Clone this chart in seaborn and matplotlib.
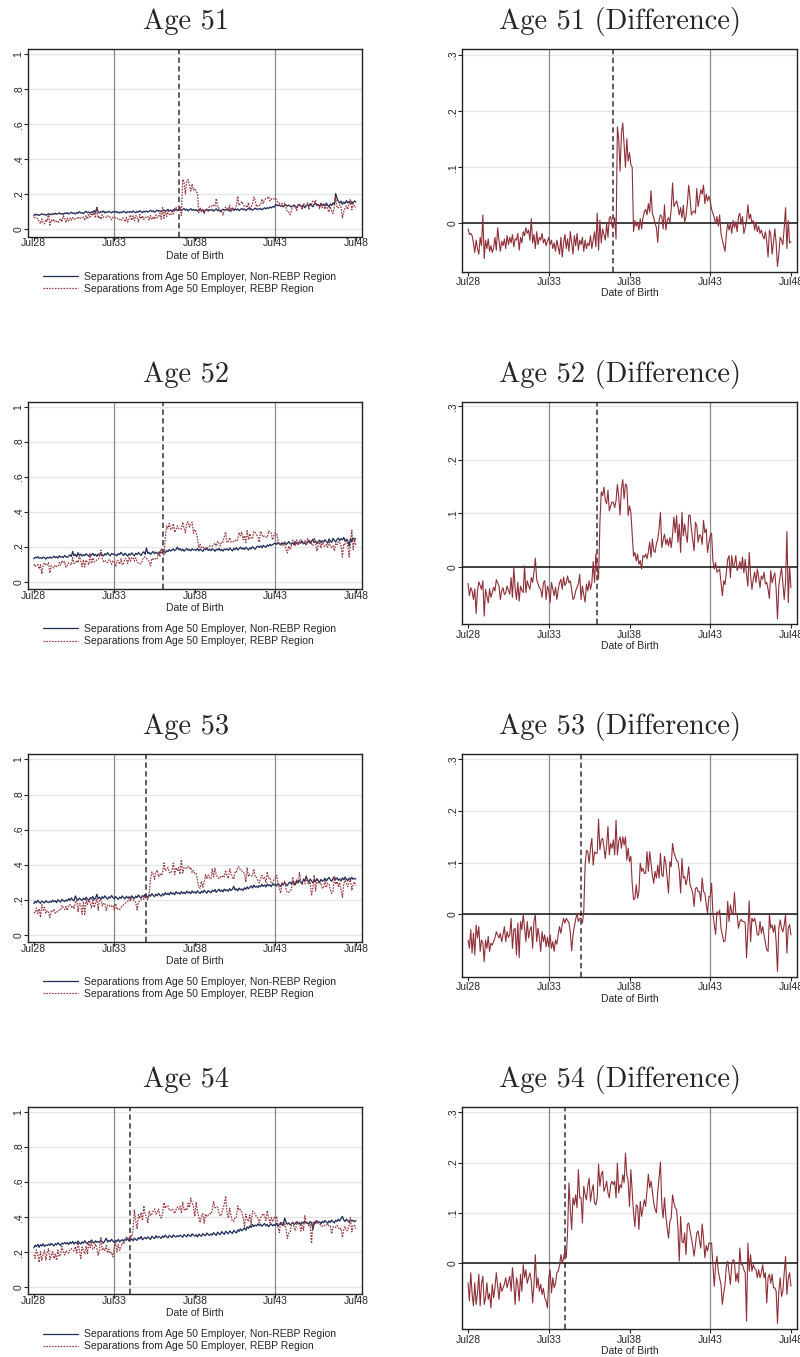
import numpy as np
import pandas as pd
import matplotlib
matplotlib.use('Agg')
import matplotlib.pyplot as plt
import seaborn as sns

# ---- data: monthly cohorts, Jul28 .. Jul48 (241 months), values in thousandths ----
months = np.arange(241)
tick_pos = [0, 60, 120, 180, 240]
tick_lab = ['Jul28', 'Jul33', 'Jul38', 'Jul43', 'Jul48']
ages = [51, 52, 53, 54]
cutoff = {51: 108, 52: 96, 53: 84, 54: 72}  # Jul37, Jul36, Jul35, Jul34

# separations from age-50 employer, non-REBP region
base51 = [78, 88, 82, 86, 80, 85, 90, 84, 87, 81, 86, 83,
          88, 84, 91, 86, 93, 87, 90, 95, 88, 92, 86, 94,
          90, 96, 89, 93, 98, 91, 95, 88, 97, 92, 102, 94,
          96, 90, 99, 104, 95, 100, 93, 101, 97, 108, 96, 124,
          100, 95, 103, 98, 106, 94, 101, 97, 104, 99, 95, 102,
          98, 104, 96, 101, 93, 100, 97, 105, 99, 94, 102, 98,
          103, 97, 106, 100, 95, 104, 98, 107, 101, 96, 105, 100,
          106, 99, 104, 110, 102, 107, 98, 105, 111, 103, 108, 101,
          107, 112, 104, 109, 115, 106, 111, 103, 113, 108, 116, 110,
          112, 118, 108, 114, 120, 110, 116, 106, 113, 119, 109, 115,
          108, 114, 104, 111, 117, 106, 112, 100, 110, 116, 105, 113,
          109, 115, 104, 112, 118, 107, 113, 102, 110, 116, 108, 114,
          110, 117, 106, 113, 119, 108, 115, 111, 118, 107, 114, 120,
          112, 118, 108, 115, 121, 113, 118, 110, 116, 122, 114, 119,
          115, 121, 112, 118, 124, 117, 125, 120, 128, 123, 131, 127,
          138, 142, 135, 140, 133, 137, 130, 136, 141, 132, 139, 134,
          128, 135, 140, 131, 126, 137, 143, 133, 129, 138, 124, 136,
          141, 132, 147, 138, 129, 144, 150, 136, 142, 131, 148, 139,
          145, 134, 151, 140, 128, 146, 137, 152, 143, 205, 178, 160,
          150, 162, 143, 157, 148, 165, 152, 160, 145, 158, 151, 163,
          157]
base52 = [133, 142, 138, 145, 136, 140, 134, 143, 139, 131, 141, 137,
          144, 136, 141, 148, 139, 145, 137, 150, 142, 146, 139, 152,
          145, 140, 149, 155, 146, 175, 150, 158, 144, 168, 152, 160,
          149, 157, 150, 162, 155, 148, 159, 153, 164, 151, 158, 147,
          160, 153, 166, 156, 149, 162, 155, 168, 157, 150, 163, 158,
          161, 155, 150, 163, 157, 170, 159, 152, 165, 156, 148, 162,
          154, 167, 158, 150, 164, 157, 169, 160, 152, 166, 173, 158,
          195, 163, 170, 158, 167, 175, 162, 171, 165, 160, 174, 168,
          170, 178, 166, 181, 174, 186, 177, 183, 190, 179, 185, 200,
          184, 191, 180, 188, 176, 185, 192, 181, 187, 178, 190, 183,
          186, 180, 192, 178, 189, 183, 175, 190, 184, 193, 181, 188,
          179, 190, 185, 176, 188, 182, 193, 180, 187, 177, 189, 184,
          190, 181, 194, 186, 178, 192, 185, 197, 183, 190, 200, 188,
          195, 186, 199, 191, 183, 196, 189, 202, 194, 187, 200, 205,
          198, 207, 195, 210, 203, 199, 212, 205, 216, 208, 214, 219,
          223, 215, 226, 218, 211, 224, 217, 229, 214, 221, 232, 219,
          216, 226, 212, 230, 220, 215, 228, 222, 234, 218, 226, 213,
          229, 238, 221, 233, 244, 226, 236, 219, 231, 240, 225, 237,
          228, 242, 231, 222, 246, 235, 226, 250, 238, 229, 244, 252,
          236, 248, 241, 255, 233, 245, 238, 205, 249, 230, 253, 242,
          248]
base53 = [178, 190, 182, 196, 185, 179, 192, 186, 181, 194, 187, 183,
          190, 185, 197, 188, 194, 183, 199, 192, 186, 201, 195, 189,
          198, 192, 206, 196, 210, 199, 193, 221, 204, 197, 209, 201,
          195, 208, 200, 214, 203, 196, 211, 205, 218, 201, 209, 230,
          206, 214, 201, 217, 208, 222, 210, 203, 216, 209, 224, 212,
          205, 218, 209, 202, 215, 207, 221, 211, 204, 219, 210, 216,
          208, 222, 213, 206, 220, 212, 227, 215, 209, 224, 216, 230,
          220, 214, 228, 219, 234, 224, 217, 231, 222, 236, 226, 220,
          233, 225, 240, 229, 236, 227, 243, 232, 238, 228, 245, 235,
          240, 231, 246, 236, 242, 233, 249, 238, 244, 234, 250, 239,
          245, 236, 251, 241, 235, 248, 240, 254, 243, 237, 252, 245,
          239, 254, 246, 258, 242, 251, 260, 247, 255, 244, 261, 250,
          257, 248, 263, 252, 259, 276, 255, 262, 250, 266, 256, 261,
          252, 268, 259, 273, 262, 270, 279, 266, 283, 271, 277, 268,
          281, 273, 287, 276, 284, 272, 289, 279, 285, 274, 290, 282,
          288, 278, 293, 283, 276, 291, 285, 298, 287, 280, 295, 300,
          288, 304, 293, 285, 308, 296, 312, 299, 290, 318, 305, 335,
          312, 300, 318, 306, 296, 314, 303, 320, 308, 298, 316, 305,
          311, 322, 306, 318, 327, 312, 305, 321, 330, 315, 324, 310,
          318, 306, 325, 313, 329, 317, 308, 323, 314, 328, 316, 321,
          318]
base54 = [225, 240, 232, 245, 228, 243, 236, 248, 233, 241, 238, 246,
          239, 251, 243, 236, 249, 242, 254, 245, 238, 252, 247, 256,
          248, 255, 244, 258, 250, 262, 246, 257, 251, 264, 253, 247,
          259, 251, 266, 255, 248, 262, 256, 270, 258, 252, 265, 257,
          262, 255, 270, 259, 252, 266, 280, 258, 268, 261, 274, 263,
          256, 268, 261, 274, 259, 266, 272, 262, 276, 268, 281, 264,
          270, 277, 265, 281, 272, 268, 284, 276, 290, 271, 279, 285,
          276, 288, 280, 273, 292, 284, 278, 295, 282, 290, 286, 279,
          293, 285, 298, 288, 282, 296, 290, 284, 299, 291, 287, 295,
          289, 298, 292, 286, 301, 294, 288, 303, 296, 290, 305, 297,
          292, 300, 287, 304, 296, 291, 307, 299, 294, 310, 302, 296,
          305, 298, 312, 303, 296, 315, 306, 300, 318, 309, 302, 320,
          312, 305, 322, 314, 307, 325, 316, 310, 328, 319, 334, 322,
          330, 340, 325, 345, 336, 352, 341, 358, 347, 355, 350, 362,
          353, 360, 348, 357, 364, 351, 359, 345, 356, 362, 350, 358,
          352, 365, 348, 358, 370, 355, 362, 395, 372, 360, 368, 356,
          362, 371, 358, 366, 375, 361, 369, 357, 373, 364, 378, 366,
          370, 361, 376, 367, 330, 372, 365, 380, 369, 374, 362, 377,
          368, 381, 372, 365, 379, 370, 384, 374, 367, 382, 376, 389,
          378, 392, 405, 384, 375, 389, 380, 371, 386, 378, 383, 374,
          380]

# REBP minus non-REBP region
diff51 = [-10, -20, -18, -22, -35, -52, -30, -45, -55, -25, -40, 15,
          -63, -30, -45, -28, -50, -40, -52, -44, -25, -48, -8, -30,
          -50, -32, -40, -28, -45, -22, -38, -25, -35, -20, -42, -28,
          -30, -18, -48, -25, -35, -15, -22, -8, -18, -12, -30, 8,
          -35, -20, -45, -15, -38, -25, -30, -18, -35, -28, -40, -32,
          -25, -38, -30, -45, -35, -50, -30, -42, -55, -25, -60, -35,
          -20, -45, -28, -50, -15, -35, -55, -22, -40, -18, -48, -30,
          -38, -25, -50, -30, -45, -35, -40, -22, -45, -30, -15, -42,
          18, -48, 5, -35, -10, -20, -30, 0, -25, 10, 12, -5,
          -5, 10, -28, 172, 150, 93, 160, 179, 140, 100, 151, 111,
          126, 105, 100, -15, 5, -5, 2, -12, 8, -10, 10, 20,
          25, 15, 35, 20, 58, 18, 10, 0, -8, -34, 5, 15,
          12, -10, 33, -12, 5, 10, 2, 25, 72, 30, 35, 40,
          30, 15, 28, 10, 32, 2, 12, 35, 68, 45, 15, 20,
          22, 18, 62, 30, 45, 60, 52, 68, 35, 52, 40, 48,
          40, 25, 18, 10, 0, 12, -5, 15, -18, -30, -40, -50,
          -20, 0, -12, 0, -18, 5, -8, 3, -15, 12, 18, -2,
          12, -18, -8, 5, 33, 8, 16, 0, 5, -12, 2, -15,
          -5, -18, -12, -22, -28, -15, -32, -60, -12, -20, -55, -35,
          -10, -35, -77, -55, -25, -30, -38, -8, 28, -45, 5, -35,
          -33]
diff52 = [-31, -54, -39, -45, -61, -41, -87, -45, -28, -35, -42, -26,
          -92, -42, -55, -67, -41, -57, -48, -38, -45, -24, -30, -36,
          -61, -45, -39, -52, -48, -36, -44, -51, -20, -57, -1, -40,
          -61, -29, -64, -36, -44, -48, 2, -48, -26, -35, -42, -20,
          -29, -10, 16, -23, -32, -39, -42, -57, -30, -26, -61, -36,
          -45, -67, -29, -42, -54, -38, -61, -42, -30, -23, -42, -19,
          -35, -29, -17, -30, -26, -42, -61, -57, -45, -38, -32, -14,
          -61, -36, -52, -66, -32, -45, -26, -42, -30, 10, -29, 24,
          -4, -23, 83, 140, 133, 149, 125, 118, 143, 105, 114, 121,
          121, 111, 124, 154, 130, 97, 146, 163, 127, 155, 152, 96,
          114, 102, 60, 20, 27, 11, 24, 5, 12, -4, 21, 18,
          24, 15, 28, 46, 18, 52, 30, 27, 43, 52, 71, 102,
          36, 50, 61, 42, 52, 39, 55, 36, 60, 93, 64, 96,
          46, 80, 27, 102, 58, 80, 60, 46, 96, 97, 71, 50,
          30, 83, 77, 46, 60, 58, 42, 87, 64, 71, 27, 45,
          58, 63, 11, -4, 8, -10, -7, -4, -29, -54, -26, -33,
          -10, 14, 21, -20, 21, 0, 5, 21, -7, -1, 10, -4,
          18, -11, 14, -15, -36, 27, -17, -42, -23, -10, -29, -4,
          -20, -39, -17, -23, -10, -32, -29, -42, -59, -7, -30, -20,
          -11, -42, -97, -36, -17, -2, -30, -61, -29, 66, -67, 1,
          -39]
diff53 = [-50, -66, -30, -75, -37, -79, -21, -46, -24, -72, -50, -56,
          -92, -50, -66, -43, -72, -56, -60, -53, -46, -34, -40, -46,
          -37, -53, -40, -24, -53, -34, -45, -40, -8, -66, -30, -27,
          -79, -17, -84, -14, -30, 0, -27, -53, -14, -46, -30, -24,
          -66, -14, -1, -53, -27, -46, -72, -34, -53, -40, -63, -45,
          -63, -40, -66, -53, -72, -50, -58, -40, -24, -37, -20, -8,
          -17, -8, -12, -17, -34, -71, -40, -24, -10, 2, -14, -8,
          -8, -17, 5, 95, 124, 121, 99, 128, 147, 95, 121, 118,
          118, 184, 125, 144, 147, 130, 108, 134, 170, 115, 137, 128,
          144, 115, 182, 115, 141, 150, 128, 150, 134, 150, 105, 128,
          102, 112, 60, 28, 31, 57, 31, 44, 99, 83, 89, 79,
          79, 121, 83, 121, 99, 76, 60, 83, 70, 95, 70, 118,
          76, 73, 112, 99, 70, 41, 102, 92, 137, 120, 112, 104,
          102, 83, 41, 108, 70, 73, 57, 70, 92, 57, 50, 41,
          15, 50, 52, 44, 44, 25, 70, 44, 41, 20, 2, 34,
          34, 60, 2, -20, -39, 5, -1, 8, -27, -40, -53, -52,
          -27, 25, -14, 18, 5, -1, 42, 2, -1, -27, -14, -10,
          -14, -14, -17, -84, -27, 26, -53, -8, -14, -8, -20, -40,
          -40, -14, -37, -24, -40, -55, -69, -72, -1, -27, -21, -35,
          -21, -53, -111, -27, -11, -27, -34, -21, -1, -75, -27, -20,
          -40]
diff54 = [-39, -75, -19, -60, -85, -39, -82, -59, -22, -85, -40, -26,
          -82, -69, -39, -72, -60, -89, -42, -69, -49, -19, -45, -72,
          -39, -56, -49, -42, -29, -49, -38, -26, -56, -9, -40, -82,
          -29, -42, -75, -22, -56, -3, -29, -13, -40, -29, -19, -35,
          -79, -42, 17, -49, -29, -56, -42, -62, -50, -69, -75, -89,
          -29, -13, -59, -29, -49, -40, -19, -16, -5, 17, 0, 10,
          27, 11, 64, 160, 107, 67, 130, 116, 136, 110, 186, 130,
          130, 80, 153, 136, 126, 153, 169, 123, 143, 156, 120, 116,
          130, 197, 153, 176, 183, 143, 150, 163, 140, 130, 156, 163,
          156, 163, 130, 199, 140, 156, 150, 176, 160, 219, 176, 163,
          113, 186, 143, 100, 73, 116, 113, 67, 123, 93, 110, 126,
          113, 143, 177, 150, 163, 143, 120, 107, 100, 143, 170, 201,
          116, 90, 130, 93, 70, 50, 83, 90, 136, 120, 110, 107,
          70, 4, 93, 44, 40, 60, 17, 77, 80, 64, 50, 34,
          14, 37, 60, 64, 45, 30, 78, 50, 11, 35, 24, 40,
          40, 40, -3, -46, -3, 14, -16, -30, -42, -82, -60, -42,
          -6, 4, -19, -42, -3, 7, 4, -36, -20, -39, 30, -3,
          -3, -13, -19, -115, 40, -16, 17, -16, -3, -10, -13, -29,
          -13, -29, -19, -3, -29, -19, -79, -29, -22, -40, -22, -49,
          -49, -56, -120, -56, -29, -66, -56, -19, 13, -62, -30, -19,
          -46]

base = {51: base51, 52: base52, 53: base53, 54: base54}
diff = {51: diff51, 52: diff52, 53: diff53, 54: diff54}

# ---- style ----
sns.set_theme(style='white')
plt.rcParams['font.family'] = ['Liberation Sans', 'DejaVu Sans']
NAVY = '#1f2b57'
MAROON = '#963840'
GRID = '#e6e6e6'
VLINE = '#8a8a8a'
FS = 7.5

W, H = 800, 1357
fig = plt.figure(figsize=(W / 100, H / 100), dpi=100)


def px_axes(x0, y0, w, h):
    return fig.add_axes([x0 / W, 1 - (y0 + h) / H, w / W, h / H])


def style_axes(ax, cut, yticks, ylabels, xpad, labelpad):
    for x in (60, 180):
        ax.axvline(x, color=VLINE, lw=0.9, zorder=1)
    ax.axvline(cut, color='#333333', lw=1.1, ls=(0, (3.5, 2.2)), zorder=1)
    ax.set_xticks(tick_pos)
    ax.set_xticklabels(tick_lab, fontsize=FS)
    ax.set_yticks(yticks)
    ax.set_yticklabels(ylabels, fontsize=FS, rotation=90, va='center')
    ax.yaxis.grid(True, color=GRID, lw=1.0, zorder=0)
    ax.xaxis.grid(False)
    ax.set_axisbelow(True)
    ax.tick_params(axis='both', which='both', direction='out', length=3,
                   width=0.8, color='#222222', left=True, bottom=True)
    ax.tick_params(axis='x', pad=xpad)
    ax.tick_params(axis='y', pad=0.2)
    for s in ax.spines.values():
        s.set_color('#222222')
        s.set_linewidth(1.0)
    ax.set_xlabel('Date of Birth', fontsize=FS, labelpad=labelpad)
    ax.set_ylabel('')


right_ylim = {51: (-0.086, 0.311), 52: (-0.107, 0.309),
              53: (-0.121, 0.310), 54: (-0.1315, 0.311)}

for i, age in enumerate(ages):
    top = 49 + 352.6 * i
    nonrebp = np.array(base[age]) / 1000
    d = np.array(diff[age]) / 1000
    rebp = nonrebp + d
    df = pd.DataFrame({'month': months, 'nonrebp': nonrebp, 'rebp': rebp, 'diff': d})

    # left: both regions
    ax = px_axes(28, top, 334, 187.5)
    sns.lineplot(data=df, x='month', y='nonrebp', ax=ax, color=NAVY, lw=0.9,
                 estimator=None, zorder=3,
                 label='Separations from Age 50 Employer, Non-REBP Region')
    sns.lineplot(data=df, x='month', y='rebp', ax=ax, color=MAROON, lw=0.9,
                 ls=(0, (1.3, 1.0)), estimator=None, zorder=3,
                 label='Separations from Age 50 Employer, REBP Region')
    ax.set_xlim(-4.3, 244.6)
    ax.set_ylim(-0.04, 1.03)
    style_axes(ax, cutoff[age], [0, 0.2, 0.4, 0.6, 0.8, 1],
               ['0', '.2', '.4', '.6', '.8', '1'], -1.6, 1.6)
    ax.legend(loc='upper left', bbox_to_anchor=(43 / W, 1 - (top + 187.5 + 35) / H),
              bbox_transform=fig.transFigure, frameon=False, fontsize=FS,
              handlelength=3.4, handletextpad=0.5, labelspacing=0.2,
              borderpad=0, borderaxespad=0)
    fig.text(186 / W, 1 - (top - 20) / H, f'Age {age}', family='cmr10',
             fontsize=20.5, ha='center', va='baseline')

    # right: difference
    ax2 = px_axes(462, top, 335, 222.5)
    ax2.axhline(0, color='#111111', lw=1.1, zorder=2)
    sns.lineplot(data=df, x='month', y='diff', ax=ax2, color='#8e2f38', lw=0.8,
                 estimator=None, zorder=3)
    ax2.set_xlim(-4.5, 244.5)
    ax2.set_ylim(*right_ylim[age])
    style_axes(ax2, cutoff[age], [0, 0.1, 0.2, 0.3],
               ['0', '.1', '.2', '.3'], 1.0, 1.0)
    fig.text(620 / W, 1 - (top - 20) / H, f'Age {age} (Difference)', family='cmr10',
             fontsize=20.5, ha='center', va='baseline')

fig.savefig('out.png', dpi=100)
